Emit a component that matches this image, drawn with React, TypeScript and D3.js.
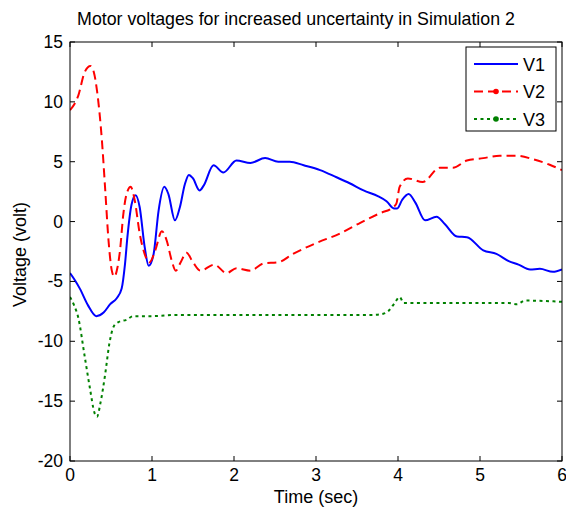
import React from "react";
import * as d3 from "d3";

const title = "Motor voltages for increased uncertainty in Simulation 2";
const xLabel = "Time (sec)";
const yLabel = "Voltage (volt)";
const xTicks = [0, 1, 2, 3, 4, 5, 6];
const yTicks = [-20, -15, -10, -5, 0, 5, 10, 15];
const seriesNames = ["V1", "V2", "V3"];

const v1T = [0, 0.06, 0.12, 0.22, 0.32, 0.41, 0.49, 0.57, 0.63, 0.67, 0.7, 0.75, 0.8, 0.85, 0.91, 0.96, 1.02, 1.08, 1.15, 1.2, 1.28, 1.34, 1.4, 1.45, 1.5, 1.58, 1.63, 1.75, 1.87, 2.03, 2.2, 2.38, 2.54, 2.68, 2.85, 3.05, 3.25, 3.41, 3.58, 3.76, 3.86, 3.95, 3.99, 4.05, 4.13, 4.21, 4.33, 4.47, 4.57, 4.72, 4.84, 5.04, 5.2, 5.35, 5.47, 5.61, 5.73, 5.89, 6.0];
const v1V = [-4.3, -4.9, -5.6, -7.0, -7.9, -7.6, -6.9, -6.4, -5.6, -3.6, -1.3, 1.4, 2.2, 1.2, -2.1, -3.7, -2.7, 0.9, 2.9, 2.3, 0.1, 1.2, 3.1, 3.9, 3.6, 2.6, 3.0, 4.7, 4.1, 5.1, 4.9, 5.3, 5.0, 5.0, 4.7, 4.3, 3.7, 3.2, 2.6, 2.1, 1.7, 1.1, 1.1, 1.8, 2.3, 1.6, 0.1, 0.4, -0.2, -1.25, -1.3, -2.4, -2.7, -3.3, -3.6, -4.0, -3.95, -4.2, -4.0];

const v2T = [0, 0.1, 0.18, 0.25, 0.29, 0.33, 0.39, 0.43, 0.47, 0.51, 0.54, 0.58, 0.61, 0.65, 0.69, 0.74, 0.79, 0.85, 0.91, 0.97, 1.04, 1.12, 1.18, 1.24, 1.29, 1.35, 1.42, 1.5, 1.59, 1.76, 1.91, 2.03, 2.2, 2.36, 2.54, 2.72, 3.0, 3.29, 3.54, 3.78, 3.94, 3.98, 4.02, 4.12, 4.3, 4.51, 4.67, 4.84, 5.04, 5.24, 5.45, 5.65, 5.85, 6.0];
const v2V = [9.3, 10.5, 12.5, 13.0, 12.5, 10.9, 6.7, 2.6, -1.6, -4.1, -4.6, -3.8, -2.4, 0.6, 2.3, 2.9, 1.75, -1.0, -2.7, -3.4, -2.4, -0.8, -1.6, -3.25, -4.1, -3.4, -2.6, -3.4, -4.1, -3.6, -4.3, -3.9, -4.1, -3.5, -3.4, -2.7, -1.8, -1.0, -0.1, 0.7, 1.2, 1.5, 2.9, 3.6, 3.3, 4.5, 4.5, 5.1, 5.3, 5.5, 5.5, 5.2, 4.75, 4.3];

const v3T = [0, 0.05, 0.1, 0.18, 0.24, 0.3, 0.33, 0.37, 0.43, 0.48, 0.53, 0.59, 0.69, 0.77, 1.0, 1.3, 2.0, 3.0, 3.7, 3.82, 3.88, 3.96, 4.02, 4.07, 4.5, 5.35, 5.45, 5.55, 6.0];
const v3V = [-6.3, -7.0, -8.0, -11.3, -13.8, -16.0, -16.3, -15.2, -12.7, -10.2, -8.8, -8.4, -8.2, -7.9, -7.9, -7.8, -7.8, -7.8, -7.8, -7.7, -7.5, -6.8, -6.3, -6.8, -6.8, -6.8, -6.9, -6.6, -6.7];

const W = 566;
const H = 509;
const left = 70;
const right = 562;
const top = 42;
const bottom = 461;

export default function App() {
  const x = d3.scaleLinear().domain([0, 6]).range([left, right]);
  const y = d3.scaleLinear().domain([-20, 15]).range([bottom, top]);
  const line = d3
    .line<[number, number]>()
    .x((d) => x(d[0]))
    .y((d) => y(d[1]))
    .curve(d3.curveMonotoneX);
  const zip = (t: number[], v: number[]) => t.map((ti, i) => [ti, v[i]] as [number, number]);
  const series = [
    { name: seriesNames[0], data: zip(v1T, v1V), color: "#0000ff", dash: undefined as string | undefined, dot: false },
    { name: seriesNames[1], data: zip(v2T, v2V), color: "#ff0000", dash: "9,5", dot: true },
    { name: seriesNames[2], data: zip(v3T, v3V), color: "#008000", dash: "3,3.5", dot: true },
  ];
  const font = "'Liberation Sans', Arial, Helvetica, sans-serif";
  const tickLen = 5;
  const lx = 466, ly = 47, lw = 90, lh = 84;

  return (
    <div style={{ position: "absolute", left: 0, top: 0 }}>
      <svg width={W} height={H} style={{ display: "block", background: "#fff" }} fontFamily={font}>
        <rect x={0} y={0} width={W} height={H} fill="#fff" />
        <defs>
          <clipPath id="plotclip">
            <rect x={left} y={top} width={right - left} height={bottom - top} />
          </clipPath>
        </defs>
        <g clipPath="url(#plotclip)">
          {series.map((s) => (
            <path
              key={s.name}
              d={line(s.data) || ""}
              fill="none"
              stroke={s.color}
              strokeWidth={2}
              strokeDasharray={s.dash}
              strokeLinejoin="round"
            />
          ))}
        </g>
        <rect x={left} y={top} width={right - left} height={bottom - top} fill="none" stroke="#000" strokeWidth={1} />
        {xTicks.map((t) => (
          <g key={"xt" + t}>
            <line x1={x(t)} x2={x(t)} y1={bottom} y2={bottom - tickLen} stroke="#000" />
            <line x1={x(t)} x2={x(t)} y1={top} y2={top + tickLen} stroke="#000" />
            <text x={x(t)} y={481} textAnchor="middle" fontSize={17.5} fill="#000">
              {t}
            </text>
          </g>
        ))}
        {yTicks.map((t) => (
          <g key={"yt" + t}>
            <line x1={left} x2={left + tickLen} y1={y(t)} y2={y(t)} stroke="#000" />
            <line x1={right} x2={right - tickLen} y1={y(t)} y2={y(t)} stroke="#000" />
            <text x={left - 7} y={y(t) + 6} textAnchor="end" fontSize={17.5} fill="#000">
              {t}
            </text>
          </g>
        ))}
        <text x={296} y={25} textAnchor="middle" fontSize={17.8} fill="#000">
          {title}
        </text>
        <text x={(left + right) / 2} y={503} textAnchor="middle" fontSize={18} fill="#000">
          {xLabel}
        </text>
        <text
          transform={`translate(26, ${(top + bottom) / 2 + 3}) rotate(-90)`}
          textAnchor="middle"
          fontSize={18}
          fill="#000"
        >
          {yLabel}
        </text>
        <rect x={lx} y={ly} width={lw} height={lh} fill="#fff" stroke="#000" strokeWidth={1} />
        {series.map((s, i) => {
          const yy = ly + 17 + i * 27.5;
          return (
            <g key={"lg" + s.name}>
              <line x1={lx + 8} x2={lx + 52} y1={yy} y2={yy} stroke={s.color} strokeWidth={2} strokeDasharray={s.dash} />
              {s.dot && <circle cx={lx + 30} cy={yy} r={2.8} fill={s.color} />}
              <text x={lx + 57} y={yy + 6.5} fontSize={18} fill="#000">
                {s.name}
              </text>
            </g>
          );
        })}
      </svg>
    </div>
  );
}
